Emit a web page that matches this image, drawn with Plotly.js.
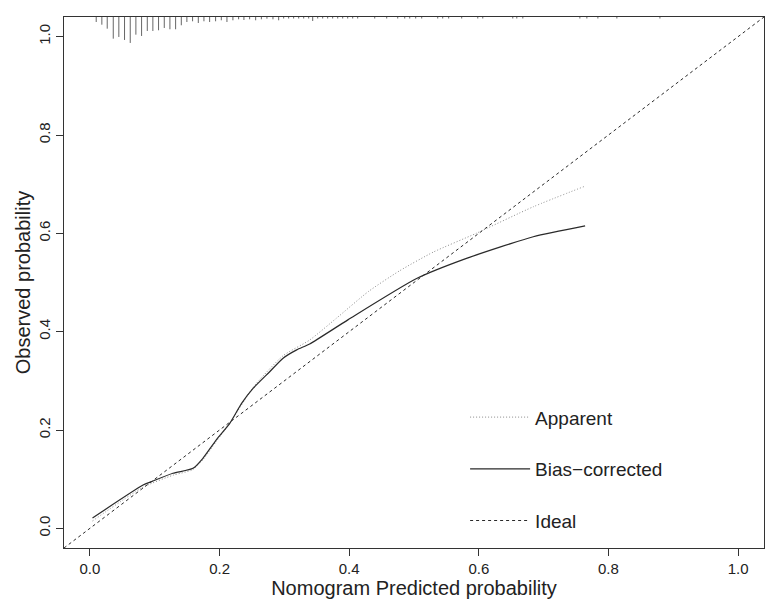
<!DOCTYPE html>
<html>
<head>
<meta charset="utf-8">
<script src="https://cdn.plot.ly/plotly-3.0.1.min.js"></script>
<style>html,body{margin:0;padding:0;background:#fff;}#chart{width:765px;height:601px;}</style>
</head>
<body>
<div id="chart"></div>
<script>
// Apparent calibration curve (dotted)
var apparentX = [0.004, 0.081, 0.128, 0.158, 0.174, 0.195, 0.216, 0.252, 0.298, 0.339, 0.380, 0.430, 0.478, 0.530, 0.596, 0.684, 0.764];
var apparentY = [0.015, 0.083, 0.108, 0.119, 0.139, 0.177, 0.214, 0.287, 0.351, 0.383, 0.427, 0.482, 0.524, 0.562, 0.600, 0.654, 0.696];

// Bias-corrected calibration curve (solid)
var biasX = [0.004, 0.082, 0.095, 0.128, 0.159, 0.174, 0.195, 0.216, 0.234, 0.252, 0.277, 0.298, 0.319, 0.339, 0.398, 0.504, 0.581, 0.684, 0.764];
var biasY = [0.021, 0.088, 0.095, 0.112, 0.122, 0.142, 0.180, 0.214, 0.254, 0.285, 0.318, 0.346, 0.363, 0.375, 0.424, 0.508, 0.549, 0.593, 0.615];

// Ideal line
var idealX = [-0.04, 1.04];
var idealY = [-0.04, 1.04];

// Distribution of predicted probabilities (rug at top)
var rugPred = [0.0097, 0.0184, 0.0267, 0.0360, 0.0446, 0.0534, 0.0622, 0.0709, 0.0797, 0.0885,
  0.0971, 0.1059, 0.1147, 0.1234, 0.1322, 0.1410, 0.1496, 0.1584, 0.1672, 0.1759,
  0.1847, 0.1939, 0.2027, 0.2114, 0.2206, 0.2294, 0.2376, 0.2464, 0.2557, 0.2645,
  0.2731, 0.2824, 0.2912, 0.2989, 0.3066, 0.3143, 0.3221, 0.3298, 0.3375, 0.3437,
  0.3514, 0.3591, 0.3668, 0.3745, 0.3823, 0.3900, 0.3977, 0.4054, 0.4131, 0.4394,
  0.4579, 0.4749, 0.4857, 0.4934, 0.5026, 0.5119, 0.5366, 0.5443, 0.5535, 0.5736,
  0.5984, 0.6061, 0.6524, 0.6586, 0.6679, 0.7559, 0.7667, 0.7837, 0.8130, 0.8794];
var rugFreq = [5, 7.7, 11.7, 21.7, 20, 23, 26, 17.7, 19, 14,
  14, 13.3, 11, 12.3, 12.3, 8.3, 5, 4.3, 6, 4.3,
  5, 4.3, 3.3, 5, 3.3, 2.3, 3, 2.3, 3.3, 2.3,
  1.7, 2.3, 3.3, 1.5, 1.5, 1.5, 1.5, 1.5, 1.5, 4,
  1.5, 1.5, 1.5, 1.5, 1.5, 1.5, 1.5, 1.5, 1.5, 1.5,
  1.5, 1.5, 1.5, 1.5, 1.5, 1.5, 1.5, 1.5, 1.5, 1.5,
  1.5, 1.5, 1.5, 1.5, 1.5, 1.5, 1.5, 1.5, 1.5, 1.5];

var tickVals = [0, 0.2, 0.4, 0.6, 0.8, 1.0];
var tickText = ["0.0", "0.2", "0.4", "0.6", "0.8", "1.0"];

var yTop = 1.04;
var rugScale = 0.00203;
var rugX = [], rugY = [];
for (var i = 0; i < rugPred.length; i++) {
  rugX.push(rugPred[i], rugPred[i], null);
  rugY.push(yTop, yTop - rugFreq[i] * rugScale, null);
}

var traces = [
  {x: rugX, y: rugY, mode: 'lines', line: {color: '#666', width: 1}, showlegend: false, hoverinfo: 'skip', cliponaxis: false},
  {x: apparentX, y: apparentY, mode: 'lines', name: 'Apparent', legendgroup: 'a',
   line: {color: '#8a8a8a', width: 1, dash: '1px,2px', shape: 'spline', smoothing: 0.6}},
  {x: biasX, y: biasY, mode: 'lines', name: 'Bias\u2212corrected', legendgroup: 'b',
   line: {color: '#2a2a2a', width: 1.2, shape: 'spline', smoothing: 0.6}},
  {x: idealX, y: idealY, mode: 'lines', name: 'Ideal', legendgroup: 'c',
   line: {color: '#2a2a2a', width: 1, dash: '3px,3px'}}
];

var axisCommon = {
  range: [-0.04, 1.04], tickvals: tickVals, ticktext: tickText,
  showgrid: false, zeroline: false, showline: true, mirror: true,
  linecolor: '#333', linewidth: 1, ticks: 'outside', ticklen: 7, tickcolor: '#333',
  tickfont: {family: 'Liberation Sans, Arial, sans-serif', size: 15, color: '#222'}
};

var layout = {
  width: 765, height: 601,
  margin: {l: 64, r: 1, t: 17, b: 53},
  paper_bgcolor: '#fff', plot_bgcolor: '#fff',
  font: {family: 'Liberation Sans, Arial, sans-serif', color: '#222'},
  xaxis: Object.assign({}, axisCommon, {
    title: {text: 'Nomogram Predicted probability', font: {size: 20, color: '#222'}, standoff: 4}
  }),
  yaxis: Object.assign({}, axisCommon, {
    tickangle: -90,
    title: {text: 'Observed probability', font: {size: 20, color: '#222'}, standoff: 0}
  }),
  showlegend: true,
  legend: {x: 0.573, y: 0.282, xanchor: 'left', yanchor: 'top', bgcolor: 'rgba(0,0,0,0)',
    font: {size: 19, color: '#222'}, tracegroupgap: 24, itemwidth: 60, traceorder: 'grouped'}
};

Plotly.newPlot('chart', traces, layout, {displayModeBar: false, staticPlot: true});
</script>
</body>
</html>
